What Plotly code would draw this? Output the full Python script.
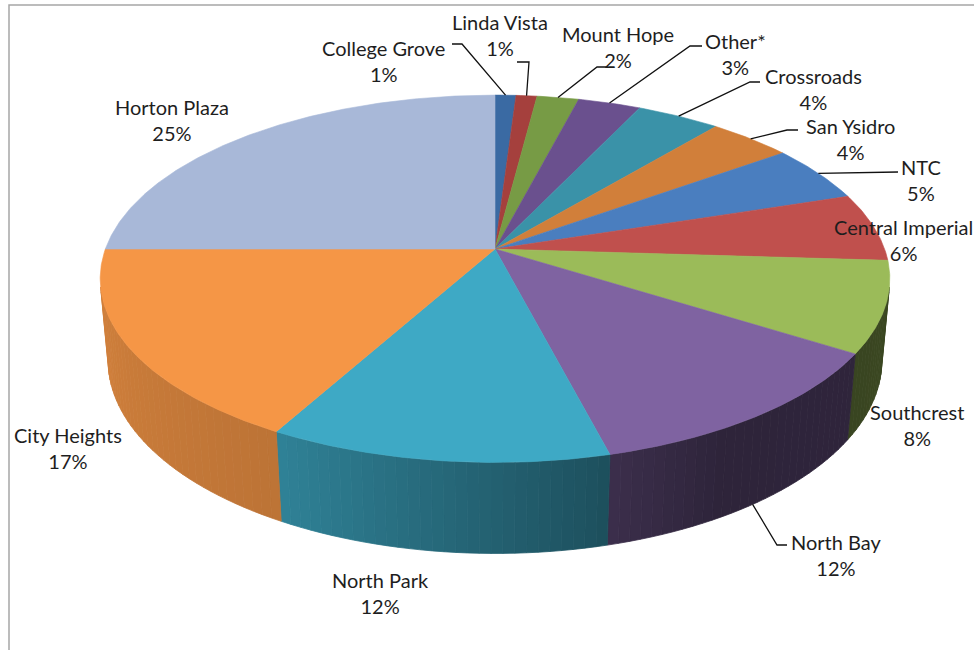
import numpy as np
import plotly.graph_objects as go

# ---------------- data ----------------
categories = ["College Grove", "Linda Vista", "Mount Hope", "Other*", "Crossroads",
              "San Ysidro", "NTC", "Central Imperial", "Southcrest", "North Bay",
              "North Park", "City Heights", "Horton Plaza"]
percent = [1, 1, 2, 3, 4, 4, 5, 6, 8, 12, 12, 17, 25]

# ---------------- styles / layout ----------------
colors = ["#3A6AA3", "#A5403D", "#779B45", "#6A508E", "#3A92A8", "#D17F3A",
          "#4A7EBF", "#C0504D", "#9BBB59", "#7F63A1", "#3EA9C5", "#F59646", "#A8B8D8"]
# label block centres (pixels) and leader elbows (None = no leader)
label_pos = [(383, 61), (500, 35), (618, 47), (735, 54), (813, 89), (850, 139),
             (921, 180), (903, 240), (917, 425), (836, 555), (380, 593), (68, 448), (172, 120)]
leader_elbow = [[(452, 44), (462, 44)], [(517, 62), (529, 62)], [(607, 67), (597, 67)],
                [(702, 46), (690, 46)], [(760, 82), (750, 82)], [(798, 130), (787, 130)],
                [(898, 172)], None, None, [(787, 545), (777, 545)], None, None, None]

CX, CY = 495.0, 249.0
D, CE, SE, F, T = 5.48, 0.888, 0.459, 2135.0, 0.238


def proj(theta, z):
    X = np.sin(theta)
    Y = np.cos(theta)
    depth = Y * CE - z * SE + D
    sx = F * X / depth
    sy = F * (Y * SE + z * CE) / depth
    return CX + sx, CY - sy


def shade(hexc, f):
    h = hexc.lstrip("#")
    r, g, b = (int(h[i:i + 2], 16) for i in (0, 2, 4))
    return "rgb(%d,%d,%d)" % (round(r * f), round(g * f), round(b * f))


vals = np.array(percent, dtype=float)
cum = np.concatenate([[0], np.cumsum(vals)]) / vals.sum() * 2 * np.pi
fig = go.Figure()

# side faces (visible front part), drawn as shaded strips
th_lo = np.arccos(-1.0 / (D * CE))
th_hi = 2 * np.pi - th_lo
for i in range(len(vals)):
    a0, a1 = max(cum[i], th_lo), min(cum[i + 1], th_hi)
    if a1 <= a0:
        continue
    n = max(1, int(np.ceil((a1 - a0) / np.radians(1.5))))
    edges = np.linspace(a0, a1, n + 1)
    for k in range(n):
        t = np.linspace(edges[k], edges[k + 1], 4)
        xt, yt = proj(t, 0.0)
        xb, yb = proj(t[::-1], -T)
        mid = np.degrees((edges[k] + edges[k + 1]) / 2)
        f = np.interp(mid, [90, 150, 170, 209, 270], [0.38, 0.36, 0.5, 0.77, 0.87])
        c = shade(colors[i], f)
        fig.add_trace(go.Scatter(x=np.concatenate([xt, xb, xt[:1]]),
                                 y=np.concatenate([yt, yb, yt[:1]]),
                                 mode="lines", fill="toself", fillcolor=c,
                                 line=dict(color=c, width=0.8), hoverinfo="skip"))

# top faces
for i in range(len(vals)):
    t = np.linspace(cum[i], cum[i + 1], max(3, int((cum[i + 1] - cum[i]) / 0.01)))
    xa, ya = proj(t, 0.0)
    fig.add_trace(go.Scatter(x=np.concatenate([[CX], xa, [CX]]),
                             y=np.concatenate([[CY], ya, [CY]]),
                             mode="lines", fill="toself", fillcolor=colors[i],
                             line=dict(color=colors[i], width=0.6),
                             name=categories[i], hoverinfo="name"))

# labels and leader lines
for i in range(len(vals)):
    lx, ly = label_pos[i]
    fig.add_annotation(x=lx, y=ly, text=f"{categories[i]}<br>{percent[i]}%",
                       showarrow=False, align="center",
                       font=dict(family="Lato", size=20, color="#1e1e1e"))
    if leader_elbow[i] is not None:
        m = (cum[i] + cum[i + 1]) / 2
        z = 0.0 if np.cos(m) > -0.3 else -T
        ex, ey = proj(m, z)
        pts = leader_elbow[i] + [(float(ex), float(ey))]
        fig.add_trace(go.Scatter(x=[p[0] for p in pts], y=[p[1] for p in pts],
                                 mode="lines", line=dict(color="#111111", width=1.3),
                                 hoverinfo="skip"))

fig.add_shape(type="rect", x0=9, y0=5, x1=1000, y1=700, xref="x", yref="y",
              line=dict(color="#A6A6A6", width=1.5), layer="below")

fig.update_layout(width=974, height=650, margin=dict(l=0, r=0, t=0, b=0),
                  showlegend=False, plot_bgcolor="white", paper_bgcolor="white",
                  xaxis=dict(range=[0, 974], visible=False, fixedrange=True),
                  yaxis=dict(range=[650, 0], visible=False, fixedrange=True))
fig.write_html("out.html")
